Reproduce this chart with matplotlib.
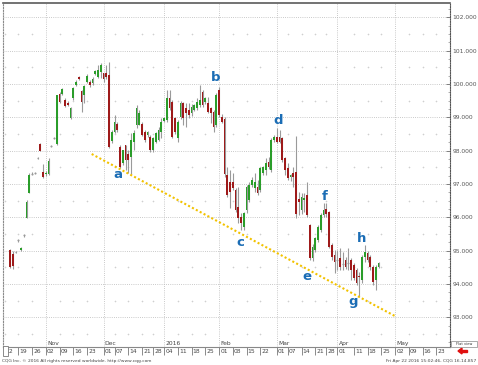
import numpy as np
import pandas as pd
import matplotlib
matplotlib.use('Agg')
import matplotlib.pyplot as plt
from matplotlib.patches import Rectangle
from matplotlib.ticker import FixedLocator, StrMethodFormatter, MultipleLocator

# trading calendar (exchange closed on these days)
holidays = ['2015-12-25', '2016-01-01', '2016-03-25']
days = pd.bdate_range('2015-10-12', '2016-06-30')
days = days[~days.isin(pd.to_datetime(holidays))]

first_bar = '2015-10-14'

# daily OHLC
opens = [95.02, 94.90, 94.95, 95.30, 95.02, 95.45, 95.97, 96.72, 97.30, 97.32,
         97.78, 98.20, 97.37, 97.30, 97.30, 98.12, 98.38, 98.20, 99.70, 99.70,
         99.52, 99.44, 98.97, 99.57, 99.97, 100.20, 99.80, 99.67, 100.07, 100.07,
         100.02, 100.30, 100.22, 100.37, 100.32, 100.32, 100.27, 98.30, 98.57, 98.80,
         98.12, 97.62, 98.17, 97.90, 97.82, 98.27, 98.77, 98.77, 98.80, 98.57,
         98.47, 98.42, 98.02, 98.27, 98.32, 98.57, 98.90, 98.92, 99.57, 99.47,
         98.97, 98.37, 99.02, 99.42, 99.27, 99.22, 99.12, 99.22, 99.27, 99.37,
         99.77, 99.47, 99.42, 99.27, 99.17, 98.77, 99.82, 99.02, 98.95, 97.27,
         97.07, 97.07, 96.82, 96.32, 96.02, 95.72, 96.22, 96.52, 96.97, 96.87,
         96.92, 96.82, 97.32, 97.42, 97.67, 97.42, 98.32, 98.42, 98.40, 98.37,
         97.77, 97.47, 97.20, 97.32, 97.35, 96.55, 96.22, 96.52, 96.67, 95.77,
         94.77, 95.02, 95.32, 95.62, 96.07, 96.25, 96.17, 95.17, 94.87, 94.70,
         94.77, 94.60, 94.72, 94.62, 94.72, 94.57, 94.42, 94.25, 94.12, 94.82,
         94.92, 94.82, 94.52, 94.12, 94.52]
highs = [95.05, 95.00, 95.00, 95.35, 95.10, 95.50, 96.52, 97.32, 97.35, 97.37,
         97.82, 98.22, 97.60, 97.38, 97.77, 98.16, 98.42, 99.67, 99.77, 99.89,
         99.57, 99.48, 99.32, 99.92, 100.12, 100.24, 99.82, 99.97, 100.30, 100.12,
         100.20, 100.42, 100.57, 100.62, 100.34, 100.57, 100.67, 98.62, 99.07, 98.87,
         98.17, 98.02, 98.17, 98.02, 98.52, 98.62, 99.37, 99.22, 98.87, 98.62,
         98.60, 98.47, 98.42, 98.57, 98.70, 98.97, 99.00, 99.82, 99.82, 99.52,
         99.00, 98.92, 99.50, 99.47, 99.42, 99.42, 99.40, 99.40, 99.57, 99.97,
         99.82, 99.62, 99.62, 99.32, 99.22, 99.72, 99.92, 99.10, 99.00, 97.50,
         97.42, 97.32, 96.87, 96.92, 96.12, 96.17, 96.97, 97.07, 97.20, 97.32,
         97.12, 97.52, 97.55, 97.77, 97.80, 98.37, 98.47, 98.67, 98.62, 98.42,
         97.82, 97.62, 97.30, 97.50, 98.45, 96.77, 96.72, 96.72, 97.07, 95.80,
         95.20, 95.42, 95.77, 96.12, 96.42, 96.42, 96.20, 95.22, 95.02, 95.02,
         95.07, 94.97, 94.80, 95.07, 94.77, 94.62, 94.47, 94.37, 94.87, 95.17,
         95.00, 94.87, 94.57, 94.57, 94.67]
lows = [94.47, 94.45, 94.92, 95.27, 95.00, 95.42, 95.97, 96.72, 97.28, 97.30,
        97.74, 97.98, 97.17, 97.25, 97.28, 98.10, 98.36, 98.18, 99.42, 99.67,
        99.32, 99.35, 98.94, 99.52, 99.94, 100.12, 99.15, 99.42, 100.04, 99.92,
        99.97, 100.27, 100.17, 100.17, 100.07, 100.14, 98.07, 98.22, 98.52, 98.57,
        97.47, 97.57, 97.42, 97.34, 97.30, 98.02, 98.67, 98.77, 98.44, 98.27,
        98.42, 97.97, 97.97, 98.22, 98.30, 98.37, 98.85, 98.87, 99.22, 98.37,
        98.50, 98.27, 98.95, 98.77, 98.72, 98.97, 99.05, 99.18, 99.22, 99.32,
        99.32, 99.40, 99.12, 98.82, 98.57, 98.72, 99.02, 98.82, 97.20, 96.62,
        96.27, 96.82, 96.17, 95.82, 95.62, 95.62, 96.12, 96.47, 96.90, 96.77,
        96.67, 96.77, 97.28, 97.27, 97.45, 97.37, 98.27, 98.22, 98.22, 97.67,
        97.27, 97.12, 97.10, 96.90, 95.97, 96.07, 96.10, 96.17, 96.02, 94.72,
        94.70, 94.97, 95.27, 95.57, 96.00, 96.00, 95.07, 94.72, 94.32, 94.42,
        94.42, 94.42, 94.45, 94.42, 94.12, 94.12, 93.97, 93.62, 94.02, 94.67,
        94.67, 94.42, 93.97, 93.82, 94.47]
closes = [94.52, 94.55, 94.97, 95.32, 95.07, 95.47, 96.47, 97.27, 97.32, 97.34,
          97.80, 98.00, 97.20, 97.34, 97.70, 98.14, 98.40, 99.67, 99.47, 99.84,
          99.34, 99.37, 99.27, 99.87, 100.07, 100.14, 99.47, 99.94, 100.24, 99.97,
          100.14, 100.40, 100.42, 100.57, 100.14, 100.20, 98.12, 98.57, 98.87, 98.62,
          97.50, 98.02, 97.72, 97.72, 98.32, 98.52, 99.27, 99.12, 98.47, 98.32,
          98.57, 98.02, 98.37, 98.52, 98.62, 98.87, 98.97, 99.57, 99.27, 98.42,
          98.57, 98.87, 99.42, 98.97, 99.12, 99.07, 99.32, 99.37, 99.47, 99.52,
          99.37, 99.57, 99.17, 99.12, 98.72, 99.67, 99.07, 98.87, 97.30, 96.67,
          96.77, 96.87, 96.22, 95.97, 95.82, 96.12, 96.92, 96.97, 97.12, 97.07,
          96.72, 97.47, 97.52, 97.62, 97.52, 98.32, 98.42, 98.27, 98.27, 97.72,
          97.42, 97.17, 97.27, 97.20, 96.10, 96.45, 96.62, 96.57, 96.07, 94.77,
          95.12, 95.37, 95.72, 96.07, 96.22, 96.10, 95.12, 94.82, 94.67, 94.72,
          94.52, 94.63, 94.52, 94.64, 94.42, 94.17, 94.02, 94.20, 94.82, 94.97,
          94.72, 94.52, 94.07, 94.52, 94.62]

# weekly axis ticks
tick_dates = ['2015-10-12', '2015-10-19', '2015-10-26', '2015-11-02', '2015-11-09',
              '2015-11-16', '2015-11-23', '2015-12-01', '2015-12-07', '2015-12-14',
              '2015-12-21', '2015-12-28', '2016-01-04', '2016-01-11', '2016-01-18',
              '2016-01-25', '2016-02-01', '2016-02-08', '2016-02-15', '2016-02-22',
              '2016-03-01', '2016-03-07', '2016-03-14', '2016-03-21', '2016-03-28',
              '2016-04-01', '2016-04-11', '2016-04-18', '2016-04-25', '2016-05-02',
              '2016-05-09', '2016-05-16', '2016-05-23']
month_dates = ['2015-11-02', '2015-12-01', '2016-01-04', '2016-02-01',
               '2016-03-01', '2016-04-01', '2016-05-02']
month_names = ['Nov', 'Dec', '2016', 'Feb', 'Mar', 'Apr', 'May']

# trend line and wave labels (bar position, price)
trend_x = [31.7, 142.4]
trend_y = [97.90, 93.02]
wave_names = ['a', 'b', 'c', 'd', 'e', 'f', 'g', 'h']
wave_x = [41.3, 76.9, 85.6, 99.5, 110.0, 116.5, 126.7, 130.0]
wave_y = [97.27, 100.18, 95.23, 98.89, 94.24, 96.61, 93.46, 95.35]


def pos(d):
    return days.get_loc(pd.Timestamp(d))


start = pos(first_bar)
xs = np.arange(start, start + len(opens))
o = np.array(opens); h = np.array(highs); l = np.array(lows); c = np.array(closes)

fig = plt.figure(figsize=(4.78, 3.65), dpi=100)
ax = fig.add_axes([3 / 478, 1 - 347 / 365, 447 / 478, 344 / 365])
ax.set_xlim(-0.55, 162)
ax.set_ylim(92.11, 102.43)

# grid
grid_c = '#b8b8b8'
for v in range(93, 103):
    ax.axhline(v, color=grid_c, lw=0.6, ls=(0, (1, 1.6)), zorder=0)
mx = [pos(d) for d in month_dates]
for x in mx:
    ax.axvline(x, color=grid_c, lw=0.6, ls=(0, (1, 1.6)), zorder=0)
tx = [pos(d) for d in tick_dates]
minor_x = [x for x in tx if x not in mx]
gx, gy = np.meshgrid(minor_x, np.arange(92.5, 102.5, 1.0))
ax.scatter(gx.ravel(), gy.ravel(), marker='+', s=2.5, lw=0.4, color='#cfcfcf', zorder=0)

# candles
green = '#2a9d2a'
red = '#9e1a1a'
wick = '#9a9a9a'
ax.vlines(xs, l, h, color=wick, lw=0.8, zorder=2)
body = np.abs(c - o)
for x, oo, cc, b in zip(xs, o, c, body):
    if b < 0.04:
        ax.hlines((oo + cc) / 2, x - 0.35, x + 0.35, color=wick, lw=0.9, zorder=3)
    else:
        ax.add_patch(Rectangle((x - 0.33, min(oo, cc)), 0.66, b,
                               facecolor=green if cc > oo else red,
                               edgecolor='none', zorder=3))

# support line
ax.plot(trend_x, trend_y, color='#f2c200', lw=1.5, ls=(0, (1, 1.1)), zorder=4)

for name, x, y in zip(wave_names, wave_x, wave_y):
    ax.text(x, y, name, color='#1b6db5', fontsize=9.5, fontweight='bold',
            ha='center', va='center', zorder=5)

# axes styling
for s in ['left', 'right', 'top', 'bottom']:
    ax.spines[s].set_linewidth(0.8)
ax.spines['top'].set_color('#5a5a5a')
ax.spines['top'].set_linewidth(1.2)
ax.spines['bottom'].set_color('#888888')
ax.spines['left'].set_color('#8a8a8a')
ax.spines['left'].set_linestyle((0, (1, 1.5)))
ax.spines['right'].set_color('#555555')
ax.spines['right'].set_linestyle((0, (1, 1.2)))

ax.yaxis.tick_right()
ax.yaxis.set_major_locator(FixedLocator(range(93, 103)))
ax.yaxis.set_major_formatter(StrMethodFormatter('{x:.3f}'))
ax.yaxis.set_minor_locator(MultipleLocator(0.25))
ax.tick_params(axis='y', which='major', direction='in', length=3, width=0.5,
               colors='#555555', labelsize=4.3, pad=2)
ax.tick_params(axis='y', which='minor', direction='in', length=1.5, width=0.4,
               color='#777777')

ax.set_xticks(tx)
ax.tick_params(axis='x', direction='out', length=5.8, width=0.6, color='#777777',
               labelbottom=False)
for x, d in zip(tx, tick_dates):
    ax.text(x + 0.45, -0.006, pd.Timestamp(d).strftime('%d'), transform=ax.get_xaxis_transform(),
            fontsize=4.3, color='#444444', ha='left', va='top', clip_on=False)
for x, m in zip(mx, month_names):
    ax.text(x + 0.45, 0.004, m, transform=ax.get_xaxis_transform(),
            fontsize=4.3, color='#444444', ha='left', va='bottom')

# frame extras
fig.patches.append(Rectangle((2.5 / 478, 1 - 356 / 365), 5 / 478, 10 / 365,
                             transform=fig.transFigure, facecolor='white',
                             edgecolor='#777777', lw=0.6, zorder=10))
fig.patches.append(Rectangle((451 / 478, 1 - 347 / 365), 26 / 478, 6 / 365,
                             transform=fig.transFigure, facecolor='white',
                             edgecolor='#888888', lw=0.5, zorder=10))
fig.text(464 / 478, 1 - 344 / 365, 'Flat view', fontsize=2.6, color='#333333',
         ha='center', va='center', zorder=11)
fig.patches.append(plt.Polygon([[458 / 478, 1 - 351 / 365], [462 / 478, 1 - 348 / 365],
                                [462 / 478, 1 - 354 / 365]], closed=True,
                               transform=fig.transFigure, color='#e01010'))
fig.patches.append(Rectangle((461 / 478, 1 - 352 / 365), 6 / 478, 2 / 365,
                             transform=fig.transFigure, color='#e01010'))

fig.text(2 / 478, 1 - 361 / 365, 'CQG Inc. \u00a9 2016 All rights reserved worldwide. http://www.cqg.com',
         fontsize=3.2, color='#444444', ha='left', va='center')
fig.text(476 / 478, 1 - 361 / 365, 'Fri Apr 22 2016 15:02:46, CQG 16.14.857',
         fontsize=3.2, color='#444444', ha='right', va='center')

fig.savefig('out.png', dpi=100)
